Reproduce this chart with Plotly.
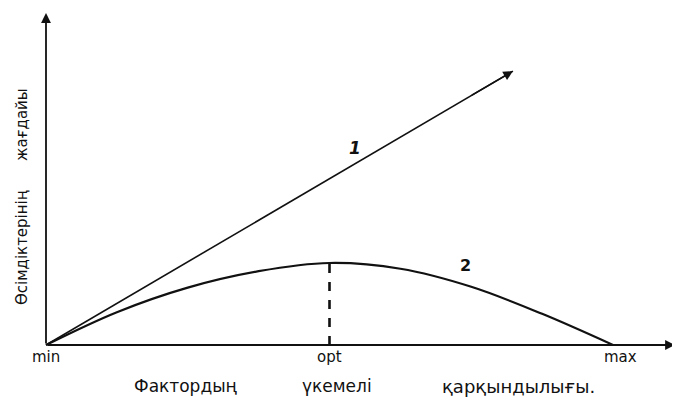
import plotly.graph_objects as go

# Data (relative units: min=0, opt=1, max=2 on x; optimum response=1 on y)
tick_labels = ["min", "opt", "max"]
tick_pos = [0, 1, 2]
line1_x = [0, 1.647]
line1_y = [0, 3.34]
curve2_x = [0, 0.25, 0.5, 0.75, 1.0, 1.25, 1.5, 1.75, 2.0]
curve2_y = [0, 0.40, 0.70, 0.90, 1.0, 0.93, 0.71, 0.38, 0]
opt_x = 1.0
opt_y = 1.0
x_title_words = ["Фактордың", "үкемелі", "қарқындылығы."]
y_title_words = ["Өсімдіктерінің", "жағдайы"]

# page offset (browser body margin) and pixel scale
OFF = 8
X0, Y0, SX, SY = 46, 345, 283.5, 82


def px2x(p):
    return (p - X0) / SX


def px2y(p):
    return (Y0 - p) / SY


fig = go.Figure()

fig.add_trace(go.Scatter(x=line1_x, y=line1_y, mode="lines",
                         line=dict(color="#111", width=1.6), hoverinfo="skip"))
fig.add_trace(go.Scatter(x=curve2_x, y=curve2_y, mode="lines",
                         line=dict(color="#111", width=2.2, shape="spline"), hoverinfo="skip"))
fig.add_trace(go.Scatter(x=[opt_x, opt_x], y=[0, opt_y], mode="lines",
                         line=dict(color="#111", width=2.6, dash="dash"), hoverinfo="skip"))

ann = []
ann.append(dict(x=px2x(675), y=0, ax=0, ay=0, xref="x", yref="y", axref="x", ayref="y",
                showarrow=True, arrowhead=2, arrowsize=1.1, arrowwidth=1.8, arrowcolor="#111", text=""))
ann.append(dict(x=0, y=px2y(13), ax=0, ay=0, xref="x", yref="y", axref="x", ayref="y",
                showarrow=True, arrowhead=2, arrowsize=1.1, arrowwidth=1.8, arrowcolor="#111", text=""))
ann.append(dict(x=line1_x[1], y=line1_y[1], ax=line1_x[1] - 0.15, ay=line1_y[1] - 0.304,
                xref="x", yref="y", axref="x", ayref="y",
                showarrow=True, arrowhead=2, arrowsize=1.2, arrowwidth=1.6, arrowcolor="#111", text=""))

font = dict(family="DejaVu Sans", color="#111")
for p, t in zip(tick_pos, tick_labels):
    ann.append(dict(x=p + (0.025 if t == "max" else 0), y=px2y(357), xref="x", yref="y", text=t,
                    showarrow=False, font=dict(size=15, **font)))

ann.append(dict(x=px2x(355), y=px2y(148), xref="x", yref="y", text="<b><i>1</i></b>", showarrow=False,
                font=dict(size=17, **font)))
ann.append(dict(x=px2x(465), y=px2y(265), xref="x", yref="y", text="<b>2</b>", showarrow=False,
                font=dict(size=16, **font)))

for xpix, w, sz in zip([186, 337, 518], x_title_words, [17, 17, 18]):
    ann.append(dict(x=px2x(xpix), y=px2y(386), xref="x", yref="y", text=w, showarrow=False,
                    font=dict(size=sz, **font)))
for ypix, w in zip([248, 125], y_title_words):
    ann.append(dict(x=px2x(22), y=px2y(ypix), xref="x", yref="y", text=w,
                    textangle=-90, showarrow=False, font=dict(size=15, **font)))

fig.update_layout(
    width=680 - OFF, height=403 - OFF,
    margin=dict(l=0, r=0, t=0, b=0),
    paper_bgcolor="white", plot_bgcolor="white",
    showlegend=False,
    xaxis=dict(range=[px2x(OFF), px2x(680)], visible=False, fixedrange=True),
    yaxis=dict(range=[px2y(403), px2y(OFF)], visible=False, fixedrange=True),
    annotations=ann,
)

fig.write_html("out.html")
